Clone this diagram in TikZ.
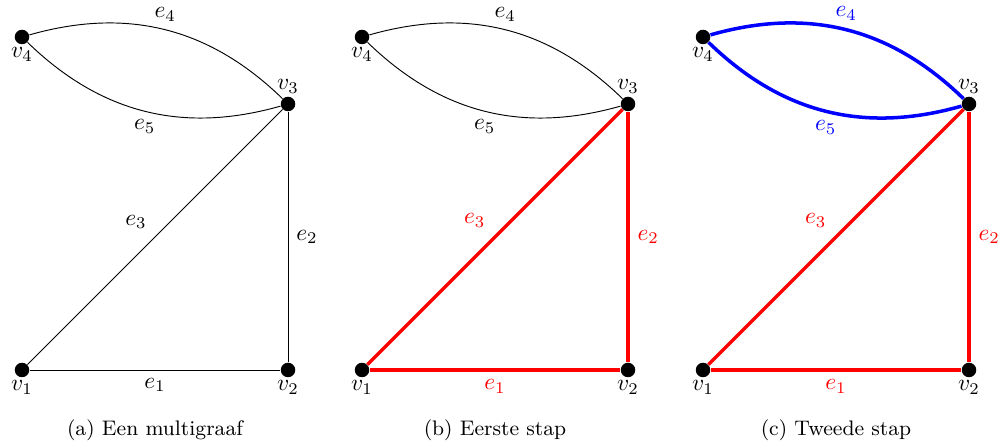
\documentclass[tikz,border=0pt]{standalone}
\begin{document}
\begin{tikzpicture}[x=0.4274pt,y=-0.4274pt,
  dot/.style={circle,fill=black,inner sep=0pt,minimum size=6.2pt},
  lbl/.style={inner sep=1pt},
  thinedge/.style={black,line width=0.4pt},
  redge/.style={red,line width=1.5pt},
  bedge/.style={blue,line width=1.5pt},
  captext/.style={font=\small}]
\useasboundingbox (0,0) rectangle (998,442);
\newcommand\mypanel[5]{%
\begin{scope}[shift={(#2,0)}]
\node[dot,label={[lbl]below:$v_1$}] (#1v1) at (22,370) {};
\node[dot,label={[lbl]below:$v_2$}] (#1v2) at (288,370) {};
\node[dot,label={[lbl]above:$v_3$}] (#1v3) at (288,104) {};
\node[dot,label={[lbl]below:$v_4$}] (#1v4) at (22,37) {};
\draw[#3] (#1v1) -- node[below,text=#4] {$e_1$} (#1v2);
\draw[#3] (#1v2) -- node[right,text=#4] {$e_2$} (#1v3);
\draw[#3] (#1v1) -- node[above left,text=#4] {$e_3$} (#1v3);
\draw[#5] (#1v4) to[bend left=30] node[above,text=#5] {$e_4$} (#1v3);
\draw[#5] (#1v4) to[bend right=30] node[below,text=#5] {$e_5$} (#1v3);
\end{scope}}
\mypanel{a}{0}{thinedge}{black}{black}
\mypanel{b}{340}{redge}{red}{black}
\mypanel{c}{681}{redge}{red}{blue,line width=1.5pt}
\node[captext] (capa) at (155,430) {(a) Een multigraaf};
\node[captext] (capb) at (495,430) {(b) Eerste stap};
\node[captext] (capc) at (836,430) {(c) Tweede stap};
\end{tikzpicture}
\end{document}
